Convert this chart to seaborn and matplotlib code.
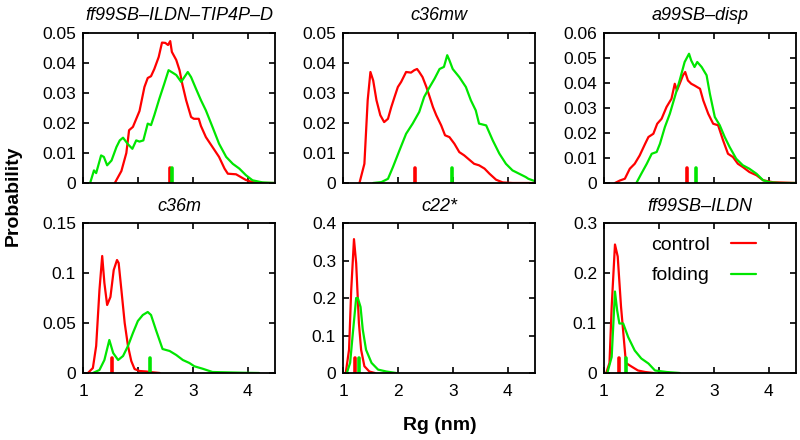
import numpy as np
import pandas as pd
import matplotlib
matplotlib.use("Agg")
import matplotlib.pyplot as plt
import seaborn as sns
from matplotlib.ticker import FuncFormatter, MultipleLocator

# ---------------- data ----------------
titles = ["ff99SB\u2013ILDN\u2013TIP4P\u2013D", "c36mw", "a99SB\u2013disp",
          "c36m", "c22*", "ff99SB\u2013ILDN"]
series_names = ["control", "folding"]

# panel 1: ff99SB-ILDN-TIP4P-D
p1_ctrl_x = [1.58, 1.70, 1.79, 1.84, 1.91, 2.03, 2.12, 2.18, 2.24, 2.30,
             2.38, 2.44, 2.50, 2.55, 2.59, 2.62, 2.70, 2.76, 2.81, 2.88,
             2.97, 3.02, 3.11, 3.15, 3.24, 3.36, 3.48, 3.58, 3.64, 3.79,
             3.97, 4.09, 4.30, 4.50]
p1_ctrl_y = [0, 0.004, 0.010, 0.0176, 0.0187, 0.024, 0.032, 0.035, 0.0356, 0.038,
             0.042, 0.0468, 0.0467, 0.0460, 0.0473, 0.0437, 0.041, 0.0376, 0.033, 0.0276,
             0.022, 0.0214, 0.0214, 0.019, 0.0153, 0.012, 0.0087, 0.0048, 0.0031, 0.0029,
             0.001, 0.0003, 0, 0]
p1_fold_x = [1.13, 1.20, 1.24, 1.33, 1.38, 1.44, 1.52, 1.61, 1.67, 1.73,
             1.82, 1.90, 1.97, 2.03, 2.10, 2.18, 2.24, 2.30, 2.39, 2.48,
             2.56, 2.64, 2.70, 2.79, 2.91, 2.97, 3.06, 3.15, 3.24, 3.36,
             3.48, 3.61, 3.73, 3.85, 3.97, 4.09, 4.27, 4.50]
p1_fold_y = [0, 0.0042, 0.0033, 0.0092, 0.0087, 0.0059, 0.0075, 0.012, 0.0142, 0.0151,
             0.0129, 0.0114, 0.0142, 0.0138, 0.0142, 0.0198, 0.0193, 0.0226, 0.028, 0.033,
             0.0376, 0.0367, 0.036, 0.0337, 0.037, 0.0353, 0.0314, 0.0276, 0.0242, 0.0187,
             0.0131, 0.0087, 0.0064, 0.0048, 0.0026, 0.0009, 0.0002, 0]

# panel 2: c36mw
p2_ctrl_x = [1.30, 1.39, 1.45, 1.50, 1.55, 1.61, 1.68, 1.75, 1.82, 1.88,
             1.94, 2.00, 2.06, 2.15, 2.24, 2.30, 2.35, 2.39, 2.45, 2.52,
             2.58, 2.64, 2.70, 2.79, 2.86, 2.94, 3.03, 3.12, 3.21, 3.30,
             3.39, 3.48, 3.58, 3.67, 3.79, 3.91, 4.09, 4.50]
p2_ctrl_y = [0, 0.0064, 0.0276, 0.037, 0.0342, 0.0276, 0.0226, 0.0203, 0.0214, 0.0253,
             0.0287, 0.032, 0.0337, 0.037, 0.0368, 0.0376, 0.038, 0.037, 0.0353, 0.032,
             0.0287, 0.0253, 0.0226, 0.0192, 0.0159, 0.0153, 0.0131, 0.0103, 0.0092, 0.0078,
             0.0064, 0.0059, 0.0048, 0.0031, 0.0011, 0.0002, 0, 0]
p2_fold_x = [1.55, 1.70, 1.82, 1.91, 2.03, 2.15, 2.27, 2.39, 2.48, 2.58,
             2.67, 2.76, 2.84, 2.90, 2.94, 3.00, 3.12, 3.24, 3.33, 3.42,
             3.48, 3.61, 3.73, 3.85, 3.97, 4.09, 4.21, 4.33, 4.38, 4.50]
p2_fold_y = [0, 0.0003, 0.0014, 0.0053, 0.0109, 0.0164, 0.0198, 0.0237, 0.0287, 0.032,
             0.0348, 0.038, 0.0387, 0.0426, 0.0409, 0.038, 0.0353, 0.032, 0.0276, 0.0242,
             0.0198, 0.0192, 0.0142, 0.0098, 0.0064, 0.0042, 0.0031, 0.002, 0.0014, 0.0006]

# panel 3: a99SB-disp
p3_ctrl_x = [1.20, 1.29, 1.38, 1.47, 1.56, 1.65, 1.75, 1.81, 1.90, 1.97,
             2.05, 2.14, 2.23, 2.29, 2.33, 2.38, 2.44, 2.48, 2.53, 2.59,
             2.65, 2.75, 2.81, 2.90, 2.99, 3.08, 3.17, 3.26, 3.35, 3.44,
             3.53, 3.65, 3.78, 3.90, 4.08, 4.50]
p3_ctrl_y = [0, 0.001, 0.0017, 0.0057, 0.0077, 0.011, 0.0157, 0.0184, 0.0197, 0.0237,
             0.0257, 0.0304, 0.0337, 0.0397, 0.037, 0.0397, 0.0431, 0.0444, 0.041, 0.0397,
             0.039, 0.0377, 0.033, 0.0277, 0.0237, 0.0231, 0.0171, 0.0117, 0.0104, 0.0077,
             0.0064, 0.0044, 0.0031, 0.0011, 0.0003, 0]
p3_fold_x = [1.59, 1.68, 1.78, 1.87, 1.96, 2.02, 2.11, 2.20, 2.29, 2.38,
             2.47, 2.55, 2.59, 2.65, 2.70, 2.78, 2.87, 2.93, 3.02, 3.11,
             3.20, 3.29, 3.41, 3.53, 3.65, 3.78, 3.90, 4.02, 4.20, 4.50]
p3_fold_y = [0, 0.0037, 0.0077, 0.0117, 0.0124, 0.0157, 0.0224, 0.0277, 0.0344, 0.0411,
             0.0484, 0.0517, 0.049, 0.0464, 0.0484, 0.0464, 0.0431, 0.0357, 0.0264, 0.0231,
             0.0184, 0.0144, 0.0097, 0.0071, 0.0057, 0.0037, 0.0011, 0.0003, 0, 0]

# panel 4: c36m
p4_ctrl_x = [1.09, 1.18, 1.24, 1.30, 1.35, 1.39, 1.44, 1.50, 1.56, 1.62,
             1.65, 1.70, 1.76, 1.82, 1.88, 1.94, 2.03, 2.15, 2.27, 2.40]
p4_ctrl_y = [0, 0.005, 0.027, 0.083, 0.117, 0.09, 0.068, 0.076, 0.103, 0.113,
             0.11, 0.083, 0.05, 0.027, 0.012, 0.004, 0.002, 0.0015, 0.0007, 0]
p4_fold_x = [1.18, 1.30, 1.39, 1.48, 1.55, 1.64, 1.73, 1.82, 1.91, 2.00,
             2.09, 2.18, 2.24, 2.33, 2.45, 2.58, 2.70, 2.82, 2.94, 3.03,
             3.18, 3.36, 3.73, 3.97, 4.21]
p4_fold_y = [0, 0.003, 0.013, 0.033, 0.02, 0.013, 0.017, 0.027, 0.04, 0.052,
             0.058, 0.061, 0.058, 0.043, 0.024, 0.022, 0.018, 0.013, 0.01, 0.0067,
             0.0043, 0.001, 0.0005, 0.0002, 0]

# panel 5: c22*
p5_ctrl_x = [1.05, 1.11, 1.15, 1.20, 1.24, 1.29, 1.33, 1.39, 1.48, 1.58]
p5_ctrl_y = [0, 0.062, 0.222, 0.357, 0.293, 0.133, 0.062, 0.018, 0.004, 0]
p5_fold_x = [1.07, 1.13, 1.18, 1.24, 1.27, 1.32, 1.36, 1.42, 1.52, 1.64, 1.79, 1.97]
p5_fold_y = [0, 0.027, 0.107, 0.2, 0.2, 0.176, 0.116, 0.062, 0.027, 0.009, 0.004, 0]

# panel 6: ff99SB-ILDN
p6_ctrl_x = [1.04, 1.10, 1.14, 1.20, 1.25, 1.31, 1.40, 1.50, 1.62, 1.75, 1.90]
p6_ctrl_y = [0, 0.02, 0.133, 0.257, 0.233, 0.133, 0.02, 0.013, 0.005, 0.002, 0]
p6_fold_x = [1.06, 1.14, 1.20, 1.24, 1.28, 1.35, 1.44, 1.56, 1.68, 1.81, 1.93, 2.14, 2.38]
p6_fold_y = [0, 0.032, 0.163, 0.125, 0.099, 0.099, 0.072, 0.045, 0.029, 0.019, 0.005, 0.002, 0]

# mean Rg markers
mean_control = [2.59, 2.31, 2.52, 1.53, 1.22, 1.27]
mean_folding = [2.63, 2.99, 2.67, 2.22, 1.30, 1.40]

y_max = [0.05, 0.05, 0.06, 0.15, 0.4, 0.3]
y_step = [0.01, 0.01, 0.01, 0.05, 0.1, 0.1]
x_ticks = [1, 2, 3, 4]

curves = [
    (p1_ctrl_x, p1_ctrl_y, p1_fold_x, p1_fold_y),
    (p2_ctrl_x, p2_ctrl_y, p2_fold_x, p2_fold_y),
    (p3_ctrl_x, p3_ctrl_y, p3_fold_x, p3_fold_y),
    (p4_ctrl_x, p4_ctrl_y, p4_fold_x, p4_fold_y),
    (p5_ctrl_x, p5_ctrl_y, p5_fold_x, p5_fold_y),
    (p6_ctrl_x, p6_ctrl_y, p6_fold_x, p6_fold_y),
]

# ---------------- style ----------------
sns.set_theme(style="ticks")
plt.rcParams["font.family"] = ["Liberation Sans", "DejaVu Sans"]
plt.rcParams.update({
    "xtick.direction": "in", "ytick.direction": "in",
    "xtick.top": True, "ytick.right": True,
    "xtick.major.size": 4, "ytick.major.size": 4,
    "xtick.major.width": 1.2, "ytick.major.width": 1.2,
    "axes.linewidth": 1.3, "axes.edgecolor": "black",
    "xtick.color": "black", "ytick.color": "black",
    "text.color": "black",
})

palette = {"control": "#ff0000", "folding": "#00e600"}

W, H = 800, 440
fig = plt.figure(figsize=(8, 4.4), dpi=100)
lefts = [83, 343, 604]
tops = [33, 223]
aw, ah = 192, 150

for i in range(6):
    r, c = divmod(i, 3)
    ax = fig.add_axes([lefts[c] / W, 1 - (tops[r] + ah) / H, aw / W, ah / H])
    cx, cy, fx, fy = curves[i]
    df = pd.DataFrame({
        "rg": list(cx) + list(fx),
        "p": list(cy) + list(fy),
        "run": ["control"] * len(cx) + ["folding"] * len(fx),
    })
    sns.lineplot(data=df, x="rg", y="p", hue="run", palette=palette,
                 ax=ax, linewidth=1.6, legend=(i == 5), estimator=None)
    ax.axvline(mean_control[i], ymin=0, ymax=0.1, color=palette["control"], lw=2.6)
    ax.axvline(mean_folding[i], ymin=0, ymax=0.1, color=palette["folding"], lw=2.6)

    ax.set_xlim(1, 4.5)
    ax.set_ylim(0, y_max[i])
    ax.set_xticks(x_ticks)
    ax.yaxis.set_major_locator(MultipleLocator(y_step[i]))
    ax.yaxis.set_major_formatter(FuncFormatter(lambda v, p: f"{v:g}"))
    ax.tick_params(labelsize=12.5, pad=5)
    if r == 0:
        ax.tick_params(labelbottom=False)
    else:
        ax.tick_params(axis="x", pad=8)
    ax.set_xlabel("")
    ax.set_ylabel("")
    ax.set_title(titles[i], fontsize=13, style="italic", pad=9)
    if i == 5:
        leg = ax.legend(loc="upper right", bbox_to_anchor=(0.86, 1.0),
                        markerfirst=False, frameon=False, fontsize=14,
                        handlelength=1.25, handletextpad=1.1,
                        labelspacing=0.65, borderaxespad=0.3)
        for h in leg.get_lines():
            h.set_linewidth(1.6)

fig.text(440 / W, 1 - 425 / H, "Rg (nm)", ha="center", va="center",
         fontsize=14, fontweight="bold")
fig.text(13 / W, 1 - 196 / H, "Probability", ha="center", va="center",
         rotation=90, fontsize=14, fontweight="bold")

fig.savefig("out.png", dpi=100)
